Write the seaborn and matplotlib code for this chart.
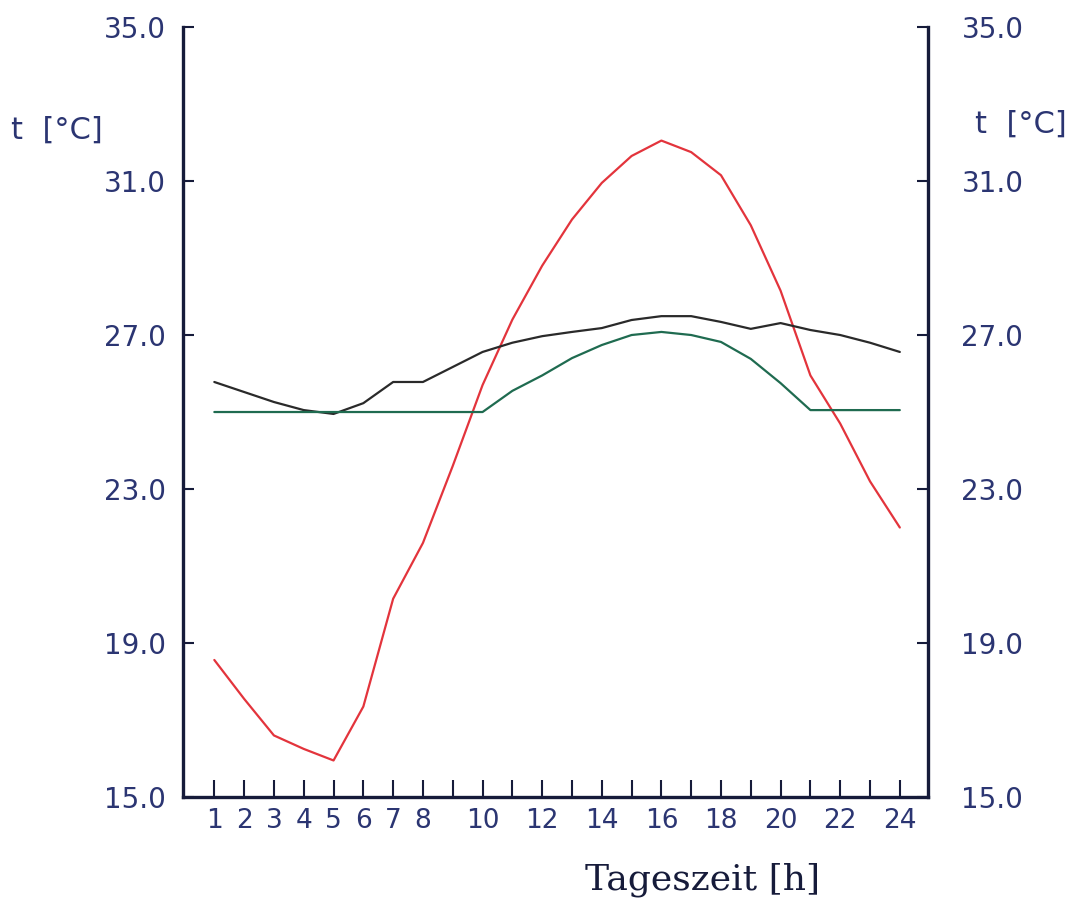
import seaborn as sns
import matplotlib.pyplot as plt
import pandas as pd

# Tagesgang der Temperaturen
hours = [1, 2, 3, 4, 5, 6, 7, 8, 9, 10, 11, 12, 13, 14, 15, 16, 17, 18, 19, 20, 21, 22, 23, 24]
t_red = [18.56, 17.55, 16.6, 16.25, 15.95, 17.35, 20.15, 21.6, 23.6, 25.7, 27.4, 28.8,
         30.0, 30.95, 31.65, 32.05, 31.75, 31.15, 29.85, 28.15, 25.95, 24.7, 23.2, 22.0]
t_black = [25.78, 25.52, 25.26, 25.05, 24.95, 25.23, 25.78, 25.78, 26.17, 26.56, 26.8, 26.97,
           27.08, 27.18, 27.39, 27.49, 27.49, 27.34, 27.16, 27.31, 27.13, 27.0, 26.8, 26.56]
t_green = [25.0, 25.0, 25.0, 25.0, 25.0, 25.0, 25.0, 25.0, 25.0, 25.0, 25.55, 25.95,
           26.4, 26.74, 27.0, 27.08, 27.0, 26.82, 26.38, 25.75, 25.05, 25.05, 25.05, 25.05]
y_ticks = [15.0, 19.0, 23.0, 27.0, 31.0, 35.0]
x_ticks = [1, 2, 3, 4, 5, 6, 7, 8, 10, 12, 14, 16, 18, 20, 22, 24]

df = pd.DataFrame({"h": hours, "red": t_red, "black": t_black, "green": t_green})

sns.set_style("white")
plt.rcParams['font.family'] = ['DejaVu Sans']

navy = '#161b3a'
lbl = '#2b3572'

fig = plt.figure(figsize=(10.83, 9), dpi=100)
ax = fig.add_axes([0.169, 0.1144, 0.688, 0.8556])

sns.lineplot(data=df, x="h", y="red", color='#e3343c', lw=1.6, ax=ax)
sns.lineplot(data=df, x="h", y="black", color='#2a2a2a', lw=1.6, ax=ax)
sns.lineplot(data=df, x="h", y="green", color='#1f6b50', lw=1.6, ax=ax)

ax.set_xlim(-0.05, 24.95)
ax.set_ylim(15, 35)
ax.set_xlabel("")
ax.set_ylabel("")

ax.spines['top'].set_visible(False)
for s in ['left', 'right', 'bottom']:
    ax.spines[s].set_color(navy)
    ax.spines[s].set_linewidth(2.4)

ax.set_yticks(y_ticks)
ax.set_yticklabels([f"{v:.1f}" for v in y_ticks])
ax.set_xticks(hours, minor=True)
ax.set_xticks(x_ticks)
ax.set_xticklabels([str(v) for v in x_ticks])

ax.tick_params(axis='y', direction='in', length=8, width=1.5, color=navy,
               left=True, right=False, labelleft=True, labelright=False,
               labelsize=20, labelcolor=lbl, pad=12)
ax.tick_params(axis='x', which='both', direction='in', length=12, width=1.5, color=navy,
               bottom=True, top=False, labelsize=19, labelcolor=lbl, pad=8)

# rechte Achse mit gleicher Skala
ax2 = ax.twinx()
ax2.set_ylim(15, 35)
ax2.set_yticks(y_ticks)
ax2.set_yticklabels([f"{v:.1f}" for v in y_ticks])
for s in ax2.spines.values():
    s.set_visible(False)
ax2.tick_params(axis='y', direction='in', length=8, width=1.5, color=navy,
                left=False, right=True, labelleft=False, labelright=True,
                labelsize=20, labelcolor=lbl, pad=24)
ax2.grid(False)

fig.text(0.01, 0.855, "t  [°C]", fontsize=22, color=lbl, ha='left', va='center')
fig.text(0.9, 0.862, "t  [°C]", fontsize=22, color=lbl, ha='left', va='center')
fig.text(0.54, 0.022, "Tageszeit [h]", fontsize=26, family='DejaVu Serif',
         color=navy, ha='left', va='center')

plt.savefig("out.png", dpi=100)
